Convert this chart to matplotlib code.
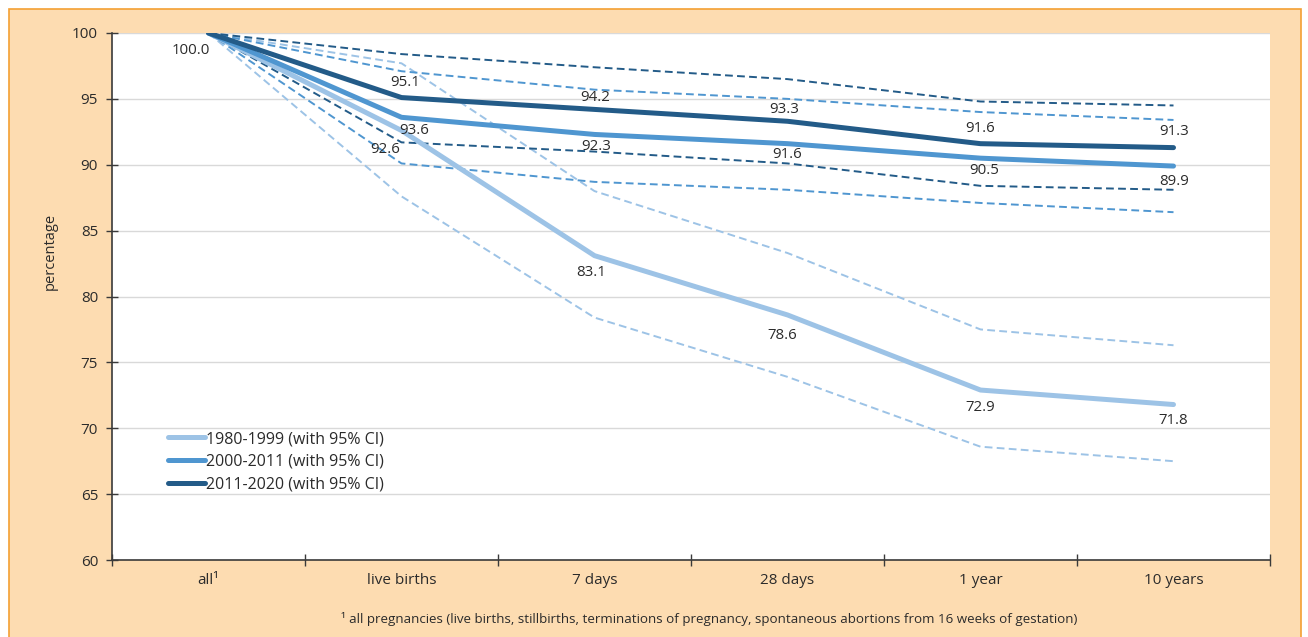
import matplotlib
matplotlib.use("Agg")
import matplotlib.pyplot as plt
from matplotlib.patches import Rectangle
import numpy as np

plt.rcParams['font.family'] = ['Open Sans', 'DejaVu Sans']

# ---- data ----
categories = ["all\u00b9", "live births", "7 days", "28 days", "1 year", "10 years"]
series_names = ["1980-1999 (with 95% CI)", "2000-2011 (with 95% CI)", "2011-2020 (with 95% CI)"]

s1980 = [100.0, 92.6, 83.1, 78.6, 72.9, 71.8]
s1980_lo = [100.0, 87.6, 78.4, 73.9, 68.6, 67.5]
s1980_hi = [100.0, 97.7, 88.0, 83.3, 77.5, 76.3]

s2000 = [100.0, 93.6, 92.3, 91.6, 90.5, 89.9]
s2000_lo = [100.0, 90.1, 88.7, 88.1, 87.1, 86.4]
s2000_hi = [100.0, 97.1, 95.7, 95.0, 94.0, 93.4]

s2011 = [100.0, 95.1, 94.2, 93.3, 91.6, 91.3]
s2011_lo = [100.0, 91.7, 91.0, 90.1, 88.4, 88.1]
s2011_hi = [100.0, 98.4, 97.4, 96.5, 94.8, 94.5]

yticks = [60, 65, 70, 75, 80, 85, 90, 95, 100]
footnote = "\u00b9 all pregnancies (live births, stillbirths, terminations of pregnancy, spontaneous abortions from 16 weeks of gestation)"

# ---- style ----
colors = ["#9DC3E6", "#4F96D0", "#235B88"]
bg = "#FDDCB1"
border = "#F4A033"
txt = "#2B2B2B"

W, H = 1308, 637
fig = plt.figure(figsize=(W / 100, H / 100), dpi=100)
fig.patch.set_facecolor("white")
fig.patches.append(Rectangle((9 / W, -0.05), (1301 - 9) / W, (H - 9) / H + 0.05, transform=fig.transFigure,
                             facecolor=bg, edgecolor=border, linewidth=1.2, zorder=-10))

ax = fig.add_axes([112 / W, (H - 560) / H, (1270 - 112) / W, (560 - 33) / H])
ax.set_zorder(5)
ax.set_facecolor("white")
x = np.arange(len(categories))

dash = (0, (4.0, 2.2))
for c, lo, hi in zip(colors, [s1980_lo, s2000_lo, s2011_lo], [s1980_hi, s2000_hi, s2011_hi]):
    ax.plot(x, lo, color=c, lw=1.4, linestyle=dash, zorder=3)
    ax.plot(x, hi, color=c, lw=1.4, linestyle=dash, zorder=3)

mains = [s1980, s2000, s2011]
for c, s, name in zip(colors, mains, series_names):
    ax.plot(x, s, color=c, lw=3.6, solid_capstyle="round", solid_joinstyle="round", label=name, zorder=4)

# data labels (offsets in pixels)
off1980 = [(-18, -17), (-16, -19), (-3, -17), (-5, -21), (0, -17), (0, -16)]
off2000 = [None, (13, -13), (2, -12), (0, -11), (4, -12), (1, -15)]
off2011 = [None, (4, 15), (1, 12), (-3, 12), (0, 15), (1, 16)]
for s, offs in zip(mains, [off1980, off2000, off2011]):
    for i, (v, o) in enumerate(zip(s, offs)):
        if o is None:
            continue
        ax.annotate(f"{v:.1f}", (x[i], v), xytext=o, textcoords="offset pixels",
                    ha="center", va="center", fontsize=10.8, color=txt, zorder=6)

ax.set_xlim(-0.5, len(categories) - 0.5)
ax.set_ylim(60, 100)
ax.set_yticks(yticks)
ax.set_yticklabels([str(t) for t in yticks], fontsize=11, color=txt)
ax.yaxis.grid(True, color="#D9D9D9", lw=1.0)
ax.set_axisbelow(True)

ax.set_xticks(np.arange(len(categories) + 1) - 0.5)
ax.set_xticklabels([])
ax.set_xticks(x, minor=True)
ax.set_xticklabels(categories, minor=True, fontsize=11, color=txt)
ax.tick_params(axis="x", which="minor", length=0, pad=9)
ax.tick_params(axis="x", which="major", direction="inout", length=8, width=1, color="#3A3A3A")
ax.tick_params(axis="y", direction="inout", length=8, width=1, color="#3A3A3A", pad=6)

for side in ["top", "right"]:
    ax.spines[side].set_visible(False)
for side in ["left", "bottom"]:
    ax.spines[side].set_color("#3A3A3A")
    ax.spines[side].set_linewidth(1.2)

fig.text(50 / W, 1 - 251 / H, "percentage", rotation=90, ha="center", va="center", fontsize=10.5, color=txt)

leg = ax.legend(loc="upper left", bbox_to_anchor=(56 / (1270 - 112), 1 - (431 - 33) / (560 - 33)),
                frameon=False, fontsize=11.5, handlelength=2.3, handletextpad=0.1,
                labelspacing=0.42, borderaxespad=0, borderpad=0)
for t in leg.get_texts():
    t.set_color(txt)

fig.text(709 / W, 1 - 619 / H, footnote, ha="center", va="center", fontsize=9.6, color=txt)

fig.savefig("out.png", dpi=100, facecolor=fig.get_facecolor())
